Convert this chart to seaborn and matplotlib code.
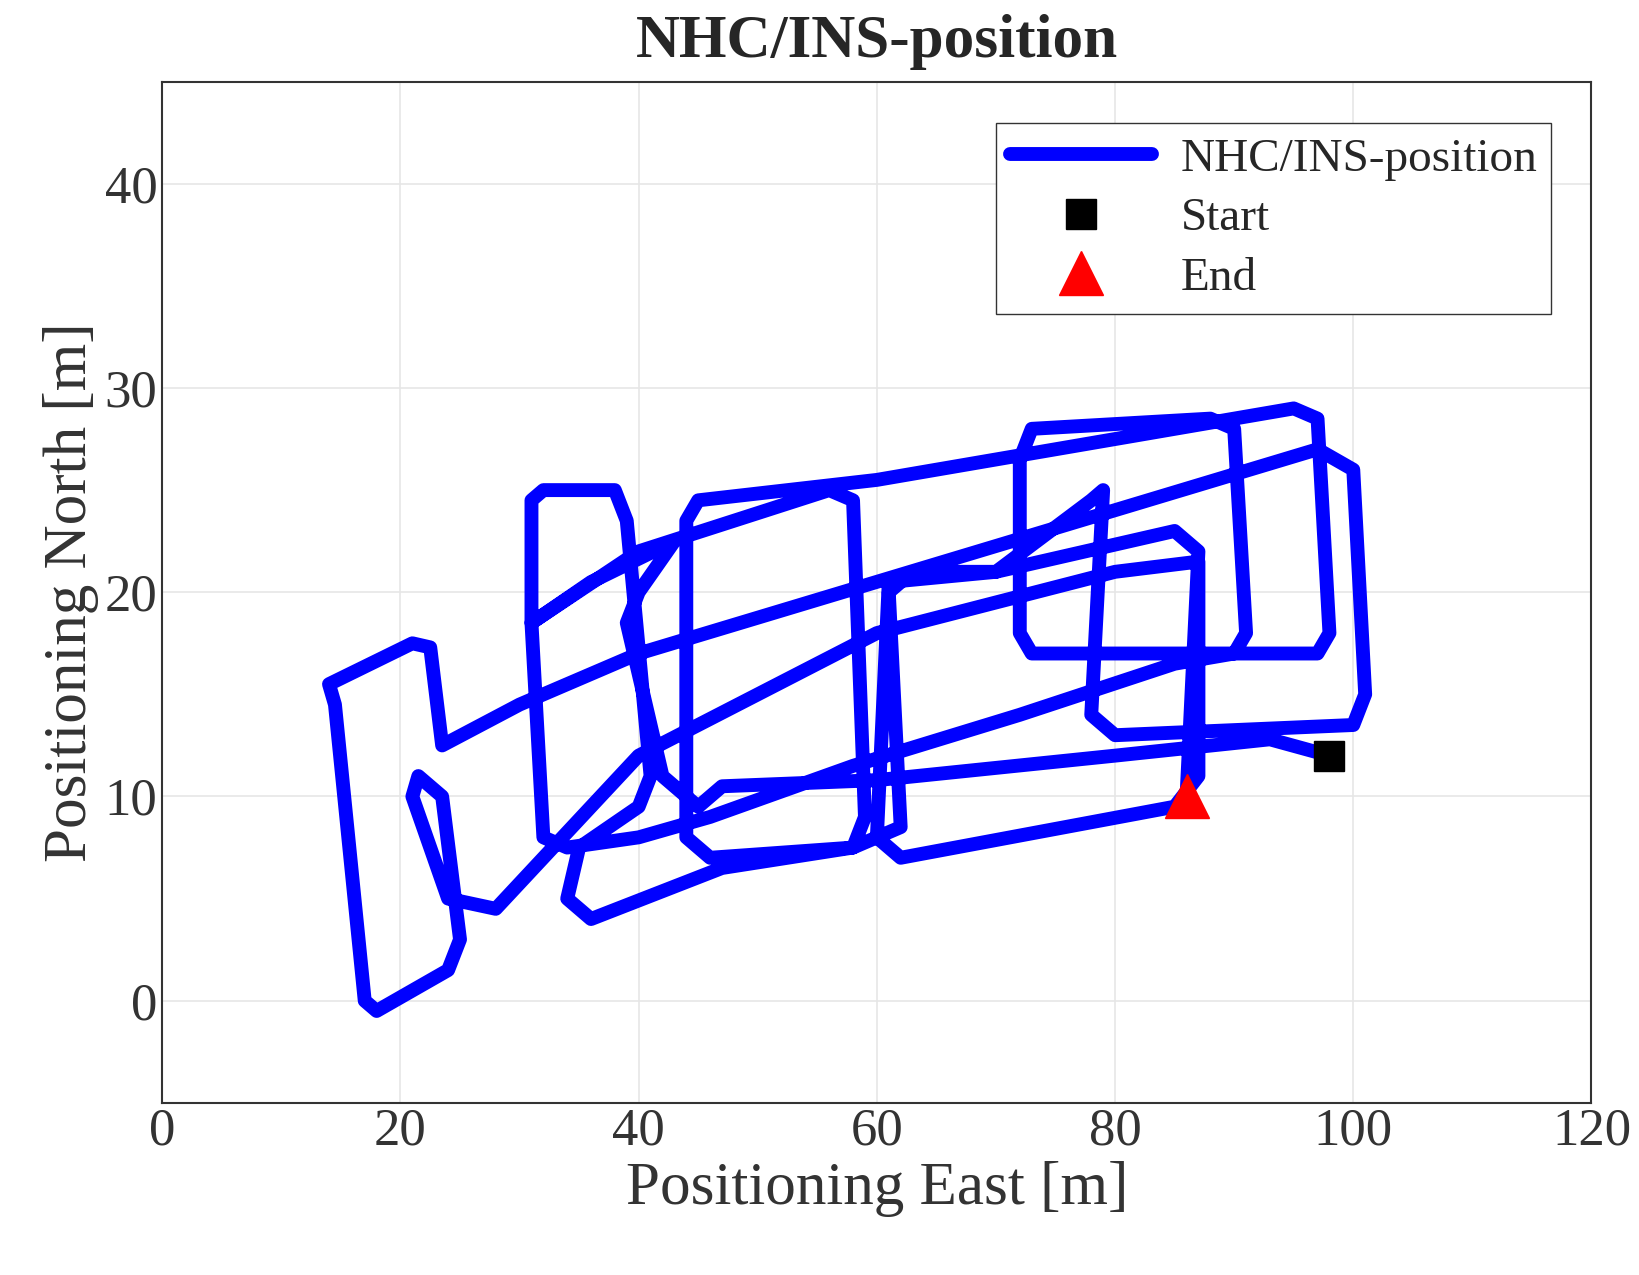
import numpy as np
import pandas as pd
import seaborn as sns
import matplotlib.pyplot as plt

# approximate trajectory waypoints
east = [98, 93, 80, 60, 47, 45, 42, 39, 40, 43, 36, 31, 32, 34, 40, 46, 58, 72, 85, 90, 91, 90, 88, 73, 72,
        72, 73, 97, 98, 97, 95, 60, 45, 44, 44, 46, 58, 59, 58, 56, 40, 31, 31, 32, 38, 39, 41, 40, 35, 34,
        36, 47, 58, 62, 61, 63, 70, 78, 79, 78, 80, 100, 101, 100, 97, 40, 30, 23.5, 22.5, 21, 14, 14.5, 17, 18,
        24, 25, 23.5, 21.5, 21, 24, 28, 40, 60, 80, 87, 87, 85, 62, 60, 61, 70, 85, 87, 86]
north = [12, 12.8, 12, 10.8, 10.5, 9.5, 11, 18.5, 20, 22.5, 20.5, 18.5, 8, 7.5, 8, 9, 11.5, 14, 16.5, 17, 18, 28, 28.5, 28, 26.5,
         18, 17, 17, 18, 28.5, 29, 25.5, 24.5, 23.5, 8, 7, 7.5, 9, 24.5, 25, 22, 18.5, 24.5, 25, 25, 23.5, 11, 9.5, 7.5, 5,
         4, 6.5, 7.5, 8.5, 20, 21, 21, 24.5, 25, 14, 13, 13.5, 15, 26, 27, 17, 14.5, 12.5, 17.3, 17.5, 15.5, 14.5, 0, -0.5,
         1.5, 3, 10, 11, 10, 5, 4.5, 12, 18, 21, 21.5, 11, 9.5, 7, 8, 20.5, 21, 23, 22, 10]
start = (98, 12)
end = (86, 10)

df = pd.DataFrame({"east": east, "north": north})

sns.set_style("whitegrid")
plt.rcParams['font.family'] = ['Liberation Serif', 'DejaVu Serif']

fig = plt.figure(figsize=(16.39, 12.75), dpi=100)
ax = fig.add_axes([0.099, 0.135, 0.872, 0.801])
sns.lineplot(data=df, x="east", y="north", sort=False, estimator=None, color="#0000ff",
             linewidth=10, ax=ax, label="NHC/INS-position")
for ln in ax.lines:
    ln.set_solid_joinstyle("round")
    ln.set_solid_capstyle("round")
ax.plot(*start, "s", color="black", markersize=22, label="Start", linestyle="none")
ax.plot(*end, "^", color="red", markersize=32, label="End", linestyle="none")

ax.set_xlim(0, 120)
ax.set_ylim(-5, 45)
ax.set_xticks(range(0, 121, 20))
ax.set_yticks(range(0, 41, 10))
ax.tick_params(labelsize=38, colors="#333333", direction="in")
ax.grid(True, color="#e6e6e6", linewidth=1.2)
for s in ax.spines.values():
    s.set_color("#333333")
    s.set_linewidth(1.5)
ax.set_xlabel("Positioning East [m]", fontsize=44, color="#333333")
ax.set_ylabel("Positioning North [m]", fontsize=44, color="#333333")
ax.set_title("NHC/INS-position", fontsize=44, fontweight="bold", pad=18)
leg = ax.legend(loc="upper right", fontsize=34, fancybox=False, framealpha=1,
                edgecolor="#333333", borderaxespad=0, handlelength=3, labelspacing=0.35,
                handletextpad=0.6, borderpad=0.3, bbox_to_anchor=(0.972, 0.959))
fig.savefig("out.png", dpi=100, facecolor="white")
